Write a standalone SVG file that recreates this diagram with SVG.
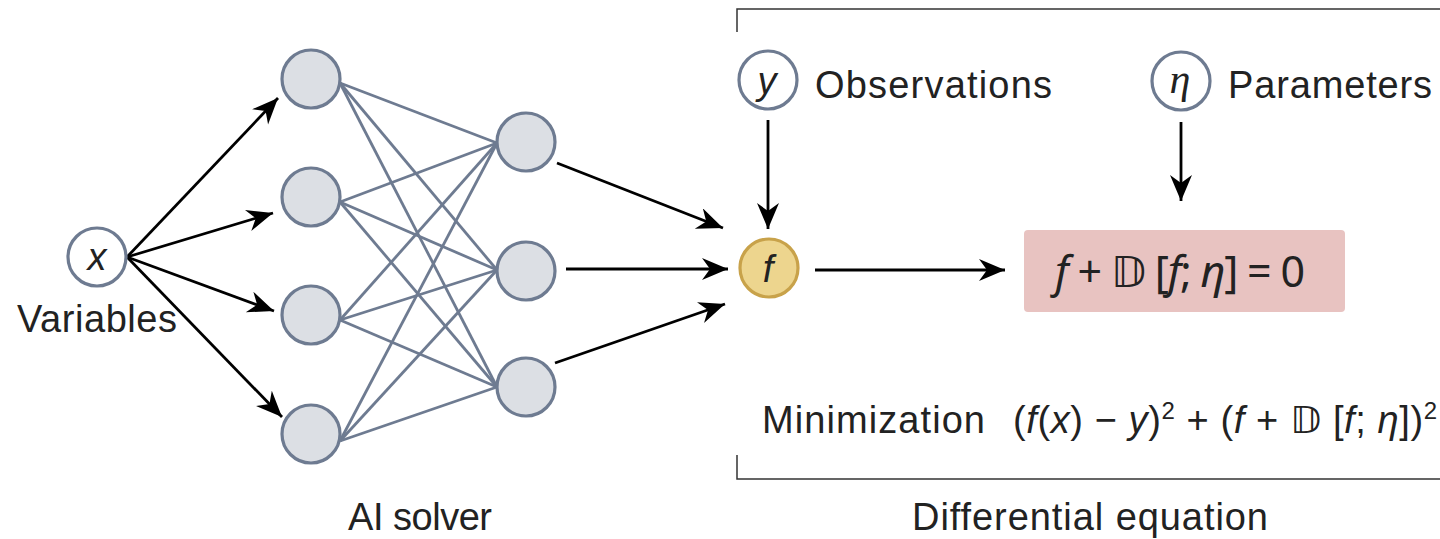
<svg xmlns="http://www.w3.org/2000/svg" width="1440" height="539" viewBox="0 0 1440 539">
<style>
.nn{fill:#DCDFE4;stroke:#6E7B91;stroke-width:3.2}
.var{fill:#fff;stroke:#6E7B91;stroke-width:3.2}
.fn{fill:#EDD58E;stroke:#C8A24A;stroke-width:3.2}
.w{stroke:#6E7B91;stroke-width:2.8;fill:none}
.ar{stroke:#000;stroke-width:2.8;fill:none;marker-end:url(#ah)}
.br{stroke:#333;stroke-width:1.5;fill:none}
.t{font-family:"Liberation Sans",Arial,sans-serif;font-size:38px;fill:#222}
.m{font-family:"Liberation Sans",Arial,sans-serif;font-style:italic;font-size:38px;fill:#222}
.bx{font-family:"Noto Sans","DejaVu Sans",sans-serif;font-size:43px;fill:#222}
.i{font-style:italic}
.ds{font-family:"DejaVu Sans",sans-serif;font-style:normal}
</style>
<defs>
<marker id="ah" markerUnits="userSpaceOnUse" markerWidth="28" markerHeight="24" refX="26" refY="11" orient="auto">
<path d="M0,0 L26,11 L0,22 L8,11 Z" fill="#000"/>
</marker>
</defs>

<g id="bracket">
<path class="br" d="M737,32 V9 H1440"/>
<path class="br" d="M737,455 V479 H1440"/>
</g>

<g id="connectors">
<g id="weights">
<line class="w" x1="340" y1="83" x2="497" y2="143"/>
<line class="w" x1="340" y1="83" x2="497" y2="270"/>
<line class="w" x1="340" y1="83" x2="497" y2="387"/>
<line class="w" x1="340" y1="202" x2="497" y2="143"/>
<line class="w" x1="340" y1="202" x2="497" y2="270"/>
<line class="w" x1="340" y1="202" x2="497" y2="387"/>
<line class="w" x1="340" y1="320" x2="497" y2="143"/>
<line class="w" x1="340" y1="320" x2="497" y2="270"/>
<line class="w" x1="340" y1="320" x2="497" y2="387"/>
<line class="w" x1="340" y1="441" x2="497" y2="143"/>
<line class="w" x1="340" y1="441" x2="497" y2="270"/>
<line class="w" x1="340" y1="441" x2="497" y2="387"/>
</g>
<line class="ar" x1="127" y1="257" x2="278" y2="98"/>
<line class="ar" x1="127" y1="257" x2="273" y2="213"/>
<line class="ar" x1="127" y1="257" x2="274" y2="311"/>
<line class="ar" x1="127" y1="257" x2="282" y2="417"/>
<line class="ar" x1="557" y1="163" x2="723" y2="228"/>
<line class="ar" x1="566" y1="269" x2="728" y2="269"/>
<line class="ar" x1="555" y1="363" x2="725" y2="304"/>
<line class="ar" x1="768" y1="120" x2="768" y2="229"/>
<line class="ar" x1="1181" y1="122" x2="1181" y2="201"/>
<line class="ar" x1="815" y1="270" x2="1005" y2="270"/>
</g>

<g id="node-x">
<circle class="var" cx="97" cy="257" r="29"/>
<text class="m" x="97" y="270" text-anchor="middle">x</text>
<text class="t" x="17" y="332" textLength="160">Variables</text>
</g>

<g id="in1"><circle class="nn" cx="311" cy="79" r="29"/></g>
<g id="in2"><circle class="nn" cx="311" cy="197" r="29"/></g>
<g id="in3"><circle class="nn" cx="311" cy="315" r="29"/></g>
<g id="in4"><circle class="nn" cx="311" cy="434" r="29"/></g>
<g id="h1"><circle class="nn" cx="526" cy="142" r="29"/></g>
<g id="h2"><circle class="nn" cx="526" cy="271" r="29"/></g>
<g id="h3"><circle class="nn" cx="526" cy="387" r="29"/></g>

<g id="node-y">
<circle class="var" cx="768" cy="80" r="29"/>
<text class="m" x="767" y="94" text-anchor="middle">y</text>
<text class="t" x="815" y="98" textLength="237">Observations</text>
</g>

<g id="node-eta">
<circle class="var" cx="1181" cy="81" r="29"/>
<text x="1180" y="93" text-anchor="middle" style="font-family:'Liberation Serif',serif;font-style:italic;font-size:42px;fill:#222">η</text>
<text class="t" x="1228" y="98" textLength="204">Parameters</text>
</g>

<g id="node-f">
<circle class="fn" cx="769" cy="268" r="29"/>
<text class="m" x="768" y="282" text-anchor="middle">f</text>
</g>

<g id="equation">
<rect x="1024" y="230" width="321" height="82" rx="4" fill="#E8C3C1"/>
<text class="bx" x="1055" y="287" textLength="250" lengthAdjust="spacing"><tspan class="i">f</tspan> + <tspan class="ds">𝔻</tspan> [<tspan class="i">f</tspan>; <tspan class="i">η</tspan>] = 0</text>
</g>

<g id="minimization">
<text class="t" x="762" y="433" textLength="223">Minimization</text>
<text class="t" x="1013" y="433" textLength="424" lengthAdjust="spacing">(<tspan class="i">f</tspan>(<tspan class="i">x</tspan>) − <tspan class="i">y</tspan>)<tspan dy="-14" font-size="24">2</tspan><tspan dy="14"> + (</tspan><tspan class="i">f</tspan> + <tspan class="ds">𝔻</tspan> [<tspan class="i">f</tspan>; <tspan class="i">η</tspan>])<tspan dy="-14" font-size="24">2</tspan></text>
</g>

<g id="labels">
<text class="t" x="348" y="530" textLength="144">AI solver</text>
<text class="t" x="912" y="530" textLength="356">Differential equation</text>
</g>
</svg>
